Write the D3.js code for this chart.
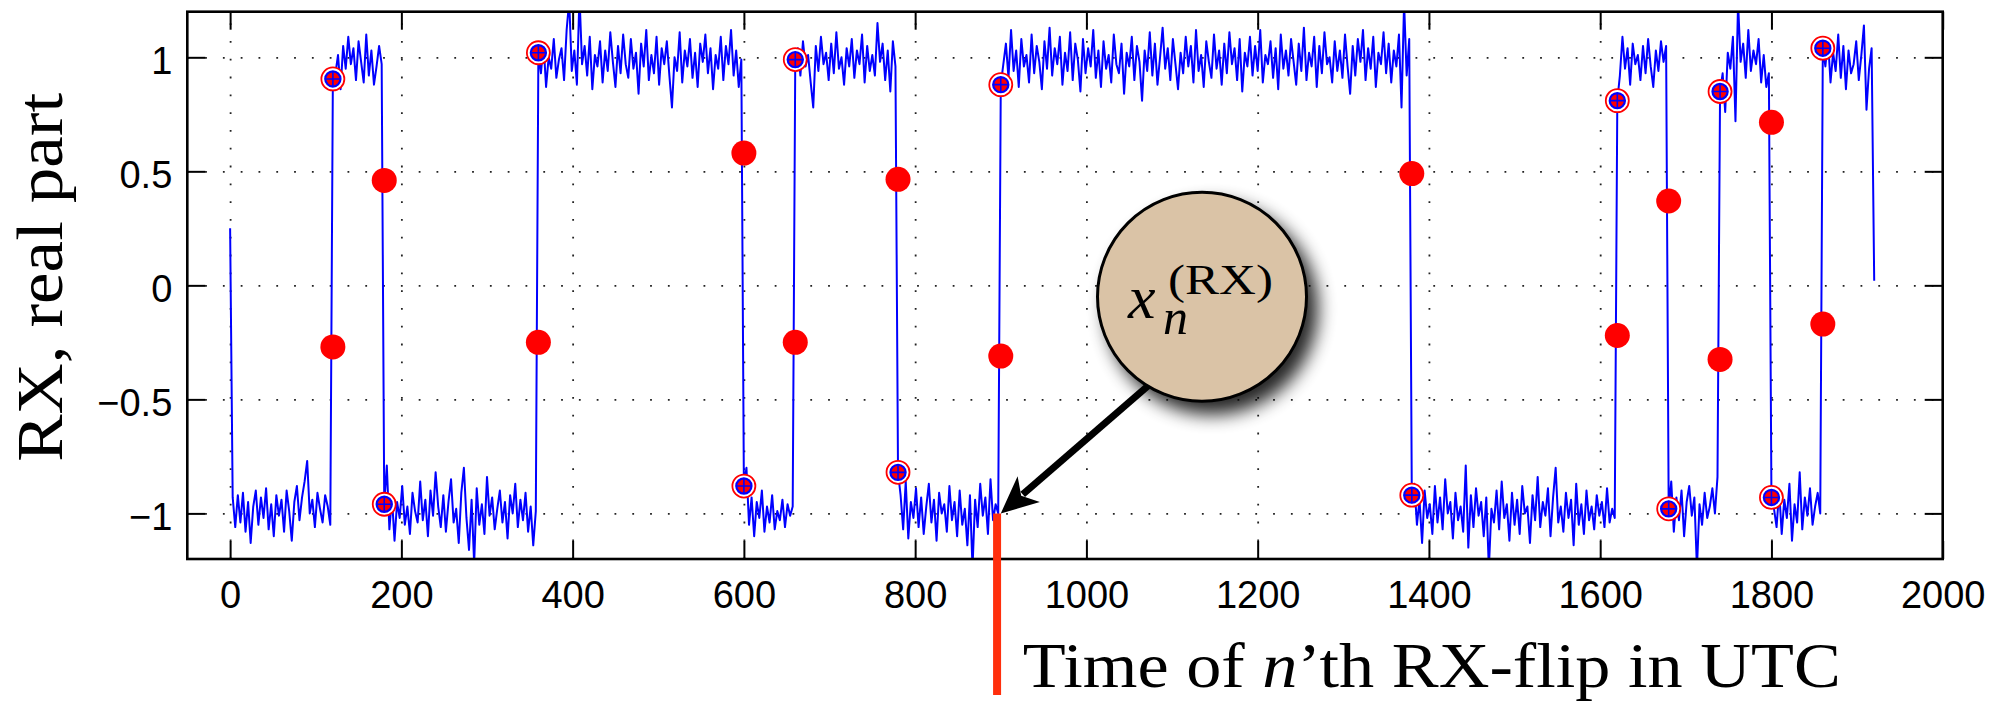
<!DOCTYPE html>
<html><head><meta charset="utf-8">
<script src="https://cdn.jsdelivr.net/npm/d3@7"></script>
<style>html,body{margin:0;padding:0;background:#fff;overflow:hidden}</style>
</head><body><svg id="chart" width="1995" height="701"></svg>
<script>
// ---------------- data ----------------
const xTickValues = [0,200,400,600,800,1000,1200,1400,1600,1800,2000];
const xTickLabels = ["0","200","400","600","800","1000","1200","1400","1600","1800","2000"];
const yTickValues = [-1,-0.5,0,0.5,1];
const yTickLabels = ["\u22121","\u22120.5","0","0.5","1"];
const xDomain = [-50, 2000];
const yDomain = [-1.2, 1.2];

const flipTimes        = [120, 180, 360, 600, 660, 780, 900, 1380, 1620, 1680, 1740, 1800, 1860];
const flipMidValues    = [-0.27, 0.46, -0.25, 0.58, -0.25, 0.465, -0.31, 0.49, -0.22, 0.37, -0.325, 0.715, -0.17];
const flipSettledValues= [0.905, -0.96, 1.02, -0.88, 0.99, -0.82, 0.88, -0.92, 0.81, -0.98, 0.85, -0.93, 1.04];

const sampleStep = 3;
const segmentStarts = [0, 120, 180, 360, 600, 660, 780, 900, 1380, 1620, 1680, 1740, 1800, 1860];
const seg00 = [0.25,-0.93,-1.06,-0.92,-1.04,-0.91,-1.08,-0.95,-1.13,-0.97,
  -0.90,-1.05,-0.93,-1.02,-0.89,-1.07,-0.96,-1.10,-0.92,-1.01,
  -0.94,-1.08,-0.90,-0.99,-1.12,-0.95,-0.88,-1.03,-0.93,-0.86,
  -0.77,-1.00,-0.94,-1.06,-0.91,-0.98,-1.04,-0.92,-0.97,-1.05];
const seg01 = [0.905,0.93,1.01,0.86,1.05,0.95,1.09,0.97,1.04,0.90,1.07,0.98,0.89,1.10,0.92,1.03,0.88,0.96,1.05,0.97];
const seg02 = [-0.96,-0.79,-1.07,-0.93,-1.12,-0.95,-1.02,-0.88,-1.05,-0.97,
  -1.09,-0.91,-0.99,-1.04,-0.86,-1.03,-0.94,-1.10,-0.90,-1.01,
  -0.82,-0.97,-1.06,-0.92,-1.08,-0.95,-0.85,-1.04,-0.98,-1.13,
  -0.91,-0.80,-1.02,-1.16,-0.94,-1.22,-0.89,-1.05,-0.96,-1.09,
  -0.84,-1.01,-0.93,-1.07,-0.98,-0.90,-1.04,-0.95,-1.11,-0.92,
  -1.00,-0.87,-1.06,-0.94,-1.03,-0.91,-1.08,-0.97,-1.14,-0.99];
const seg03 = [1.02,0.93,1.06,0.87,1.00,0.95,1.08,0.91,0.99,1.04,
  0.90,1.12,1.25,0.94,1.03,0.88,1.27,0.97,1.05,0.92,
  1.09,0.86,1.01,0.96,1.07,0.89,1.03,0.94,1.11,0.98,
  0.87,1.05,0.93,1.10,0.97,0.91,1.08,0.95,1.02,0.84,
  1.06,0.96,1.12,0.90,1.01,0.93,1.09,0.88,1.04,0.97,
  1.07,0.92,0.78,1.00,0.94,1.11,0.89,1.03,0.96,1.08,
  0.91,1.02,0.87,1.06,0.98,1.10,0.93,1.04,0.86,1.01,
  0.95,1.09,0.90,1.05,0.97,1.12,0.92,1.03,0.87,0.99];
const seg04 = [-0.88,-0.80,-1.05,-0.93,-1.10,-0.95,-1.02,-0.90,-1.08,-0.97,-1.04,-0.92,-1.07,-0.99,-1.03,-0.94,-1.06,-0.96,-1.01,-0.97];
const seg05 = [0.99,1.04,0.92,1.07,0.96,1.01,0.89,0.78,1.05,0.94,
  1.09,0.97,1.02,0.90,1.06,0.93,1.11,0.95,1.00,0.88,
  1.04,0.96,1.08,0.91,1.03,0.97,1.10,0.89,1.05,0.94,
  1.01,0.92,1.15,0.98,1.06,0.90,1.03,0.85,1.07,0.96];
const seg06 = [-0.82,-0.92,-1.07,-0.86,-1.11,-0.95,-1.02,-0.89,-1.06,-0.93,
  -1.09,-0.97,-0.87,-1.04,-0.94,-1.12,-0.91,-1.00,-0.96,-1.08,
  -0.88,-1.03,-0.95,-1.10,-0.90,-1.05,-0.98,-1.14,-0.92,-1.24,
  -0.94,-1.06,-0.87,-1.01,-0.93,-1.09,-0.85,-1.03,-0.96,-1.00];
const seg07 = [0.88,0.97,1.06,0.91,1.12,0.94,1.03,0.87,1.08,0.96,
  1.01,0.89,1.10,0.93,1.05,0.98,0.86,1.07,0.95,1.13,
  0.92,1.04,0.97,1.09,0.88,1.02,0.94,1.11,0.90,1.06,
  0.99,0.85,1.08,0.93,1.04,0.96,1.12,0.91,1.03,0.87,
  1.07,0.95,1.01,0.89,1.10,0.97,0.93,1.06,0.84,1.02,
  0.96,1.09,0.90,1.05,0.98,0.81,1.03,0.94,1.11,0.92,
  1.06,0.88,1.00,1.13,0.95,1.04,0.90,1.08,0.97,0.86,
  1.02,0.93,1.09,0.96,1.05,0.89,1.12,0.94,1.01,0.87,
  1.07,0.98,0.91,1.10,0.95,1.03,0.88,1.06,0.93,1.11,
  0.97,1.04,0.90,1.08,0.85,1.02,0.96,1.09,0.92,1.05,
  0.94,1.12,0.89,1.01,0.97,1.07,0.91,1.04,0.86,1.10,
  0.95,1.03,0.92,1.08,0.98,0.88,1.06,0.94,1.13,0.90,
  1.02,0.96,1.09,0.87,1.05,0.93,1.11,0.97,1.00,0.89,
  1.07,0.94,1.03,0.91,1.10,0.96,0.84,1.05,0.92,1.08,
  0.98,1.12,0.90,1.04,0.95,1.09,0.87,1.02,0.97,1.11,
  0.93,1.06,0.89,1.03,0.96,1.10,0.78,1.24,0.92,1.08];
const seg08 = [-0.92,-0.87,-1.05,-0.94,-1.13,-0.90,-1.02,-0.96,-1.09,-0.88,
  -1.04,-0.93,-1.07,-0.85,-1.00,-0.95,-1.11,-0.91,-1.03,-0.97,
  -1.08,-0.79,-1.15,-0.92,-1.06,-0.89,-1.01,-0.95,-1.10,-0.93,
  -1.24,-0.98,-1.04,-0.90,-1.07,-0.86,-1.02,-0.96,-1.12,-0.91,
  -1.05,-0.94,-1.09,-0.88,-1.00,-0.97,-1.13,-0.92,-1.03,-0.84,
  -1.06,-0.95,-1.01,-0.89,-1.10,-0.93,-0.80,-1.04,-0.97,-1.08,
  -0.91,-1.02,-0.94,-1.14,-0.87,-1.05,-0.96,-1.09,-0.90,-1.03,
  -0.97,-1.07,-0.92,-1.01,-0.95,-1.06,-0.89,-1.04,-0.98,-1.02];
const seg09 = [0.81,0.92,1.09,0.95,1.04,0.88,1.06,0.97,1.01,0.90,1.05,0.93,1.08,0.96,0.87,1.03,0.94,1.07,0.98,1.05];
const seg10 = [-0.98,-0.86,-1.08,-0.93,-1.03,-0.90,-1.10,-0.95,-0.88,-1.01,-0.93,-1.24,-0.96,-1.05,-0.91,-1.02,-0.97,-0.89,-1.00,-0.84];
const seg11 = [0.85,0.93,0.76,1.02,0.95,1.09,0.72,1.24,0.98,1.06,0.91,1.12,0.94,1.03,0.97,1.08,0.89,1.01,0.87,0.93];
const seg12 = [-0.93,-0.98,-1.06,-0.90,-1.09,-0.94,-1.02,-0.87,-1.12,-0.96,-1.04,-0.82,-1.07,-0.93,-1.01,-0.89,-1.05,-0.97,-0.91,-1.00];
const seg13 = [1.04,0.96,1.08,0.89,1.02,0.94,1.10,0.91,1.05,0.86,1.03,0.93,0.97,1.07,0.90,1.01,1.14,0.77,0.95,1.04,0.02];
const segments = [seg00,seg01,seg02,seg03,seg04,seg05,seg06,seg07,seg08,seg09,seg10,seg11,seg12,seg13];

// annotation (data coordinates)
const highlightFlip = [900, -1];
const bubbleCenter = [1135, -0.05];
const arrowTail = [1106, -0.33];
const axisLabelY = "RX, real part";

// ---------------- drawing ----------------
const W = 1995, H = 701;
const plot = {left: 187.3, right: 1942.7, top: 11.7, bottom: 559};
const svg = d3.select("#chart");
const x = d3.scaleLinear().domain(xDomain).range([plot.left, plot.right]);
const y = d3.scaleLinear().domain(yDomain).range([plot.bottom, plot.top]);
const sans = "'Liberation Sans', Arial, Helvetica, sans-serif";
const serif = "'Liberation Serif', 'Times New Roman', serif";

const defs = svg.append("defs");
defs.append("clipPath").attr("id","plotclip").append("rect")
  .attr("x", plot.left).attr("y", plot.top)
  .attr("width", plot.right - plot.left).attr("height", plot.bottom - plot.top);
const f = defs.append("filter").attr("id","shadow")
  .attr("x","-40%").attr("y","-40%").attr("width","190%").attr("height","190%");
f.append("feGaussianBlur").attr("in","SourceAlpha").attr("stdDeviation",9).attr("result","b");
f.append("feOffset").attr("in","b").attr("dx",10).attr("dy",12).attr("result","o");
f.append("feComponentTransfer").attr("in","o").attr("result","s")
  .append("feFuncA").attr("type","linear").attr("slope",0.85);
const fm = f.append("feMerge");
fm.append("feMergeNode").attr("in","s");
fm.append("feMergeNode").attr("in","SourceGraphic");

// grid
const gridStyle = g => g.selectAll("line").attr("stroke","#222").attr("stroke-width",1.8).attr("stroke-dasharray","1.8 16");
svg.append("g").attr("transform",`translate(0,${plot.bottom})`)
  .call(d3.axisBottom(x).tickValues(xTickValues.filter(v => v < xDomain[1])).tickSize(-(plot.bottom-plot.top)).tickFormat(""))
  .call(g => g.select(".domain").remove()).call(gridStyle);
svg.append("g").attr("transform",`translate(${plot.left},0)`)
  .call(d3.axisLeft(y).tickValues(yTickValues).tickSize(-(plot.right-plot.left)).tickFormat(""))
  .call(g => g.select(".domain").remove()).call(gridStyle);

// signal
const series = segments.flatMap((seg,k) => seg.map((v,i) => ({t: segmentStarts[k] + i*sampleStep, v})));
svg.append("path").datum(series)
  .attr("clip-path","url(#plotclip)")
  .attr("fill","none").attr("stroke","#0000ff").attr("stroke-width",2).attr("stroke-linejoin","round")
  .attr("d", d3.line().x(d => x(d.t)).y(d => y(d.v)));

// mid-transition dots
svg.append("g").selectAll("circle")
  .data(flipTimes.map((t,i) => ({t, v: flipMidValues[i]})))
  .join("circle").attr("cx", d => x(d.t)).attr("cy", d => y(d.v)).attr("r", 12.5).attr("fill","#ff0000");

// settled markers
const mk = svg.append("g").selectAll("g")
  .data(flipTimes.map((t,i) => ({t, v: flipSettledValues[i]})))
  .join("g").attr("transform", d => `translate(${x(d.t)},${y(d.v)})`);
mk.append("circle").attr("r",11.5).attr("fill","#fff").attr("stroke","#ff0000").attr("stroke-width",1.8);
mk.append("circle").attr("r",7.6).attr("fill","#ff0000").attr("stroke","#0000ff").attr("stroke-width",2.2);
mk.append("path").attr("d","M-8,0H8M0,-8V8").attr("stroke","#0000ff").attr("stroke-width",1.6);

// axes (ticks inside on all four sides)
const tickLen = 18;
const styleAxis = g => { g.select(".domain").remove(); g.selectAll(".tick line").attr("stroke","#000").attr("stroke-width",2); };
svg.append("g").attr("transform",`translate(0,${plot.bottom})`)
  .call(d3.axisBottom(x).tickValues(xTickValues).tickFormat((d,i) => xTickLabels[i]).tickSizeInner(-tickLen).tickSizeOuter(0).tickPadding(22))
  .call(styleAxis)
  .call(g => g.selectAll("text").attr("font-family", sans).attr("font-size", 38).attr("fill","#000"));
svg.append("g").attr("transform",`translate(0,${plot.top})`)
  .call(d3.axisTop(x).tickValues(xTickValues).tickFormat("").tickSizeInner(-tickLen).tickSizeOuter(0))
  .call(styleAxis);
svg.append("g").attr("transform",`translate(${plot.left},0)`)
  .call(d3.axisLeft(y).tickValues(yTickValues).tickFormat((d,i) => yTickLabels[i]).tickSizeInner(-tickLen).tickSizeOuter(0).tickPadding(15))
  .call(styleAxis)
  .call(g => g.selectAll("text").attr("font-family", sans).attr("font-size", 38).attr("fill","#000").attr("dy","0.43em"));
svg.append("g").attr("transform",`translate(${plot.right},0)`)
  .call(d3.axisRight(y).tickValues(yTickValues).tickFormat("").tickSizeInner(-tickLen).tickSizeOuter(0))
  .call(styleAxis);
svg.append("rect").attr("x",plot.left).attr("y",plot.top)
  .attr("width",plot.right-plot.left).attr("height",plot.bottom-plot.top)
  .attr("fill","none").attr("stroke","#000").attr("stroke-width",2.6);

// y-axis label
svg.append("text")
  .attr("transform",`translate(62,${(plot.top+plot.bottom)/2 - 8}) rotate(-90)`)
  .attr("text-anchor","middle").attr("font-family",serif).attr("font-size",65)
  .attr("textLength",369).attr("lengthAdjust","spacingAndGlyphs")
  .text(axisLabelY);

// arrow from bubble to the n'th flip
const tip = [x(highlightFlip[0]), y(highlightFlip[1])];
const tail = [x(arrowTail[0]), y(arrowTail[1])];
const dx = tip[0]-tail[0], dy = tip[1]-tail[1], L = Math.hypot(dx,dy);
const u = [dx/L, dy/L], p = [-u[1], u[0]];
const headLen = 37, headHalf = 17, notch = 27;
svg.append("line")
  .attr("x1",tail[0]).attr("y1",tail[1])
  .attr("x2",tip[0]-u[0]*(notch+2)).attr("y2",tip[1]-u[1]*(notch+2))
  .attr("stroke","#000").attr("stroke-width",7);
const back = [tip[0]-u[0]*headLen, tip[1]-u[1]*headLen];
svg.append("path").attr("fill","#000")
  .attr("d", `M${tip[0]},${tip[1]}L${back[0]+p[0]*headHalf},${back[1]+p[1]*headHalf}L${tip[0]-u[0]*notch},${tip[1]-u[1]*notch}L${back[0]-p[0]*headHalf},${back[1]-p[1]*headHalf}Z`);

// bubble
const bc = [x(bubbleCenter[0]), y(bubbleCenter[1])];
svg.append("circle").attr("cx",bc[0]).attr("cy",bc[1]).attr("r",104.5)
  .attr("fill","#dac3a6").attr("stroke","#000").attr("stroke-width",3).attr("filter","url(#shadow)");
const sym = svg.append("text").attr("font-family",serif);
sym.append("tspan").attr("x",bc[0]-74).attr("y",bc[1]+21)
  .attr("font-style","italic").attr("font-size",62).text("x");
sym.append("tspan").attr("x",bc[0]-34).attr("y",bc[1]-3)
  .attr("font-size",42).attr("textLength",105).attr("lengthAdjust","spacingAndGlyphs").text("(RX)");
sym.append("tspan").attr("x",bc[0]-39).attr("y",bc[1]+37)
  .attr("font-style","italic").attr("font-size",50).text("n");

// red marker line below the flip and caption
svg.append("line")
  .attr("x1",tip[0]-3.7).attr("x2",tip[0]-3.7)
  .attr("y1",tip[1]).attr("y2",H-6)
  .attr("stroke","#ff2f0c").attr("stroke-width",8);
const cap = svg.append("text").attr("x",tip[0]+22).attr("y",687)
  .attr("font-family",serif).attr("font-size",63)
  .attr("textLength",818).attr("lengthAdjust","spacingAndGlyphs");
cap.append("tspan").text("Time of ");
cap.append("tspan").attr("font-style","italic").text("n");
cap.append("tspan").text("\u2019th RX-flip in UTC");
</script></body></html>
